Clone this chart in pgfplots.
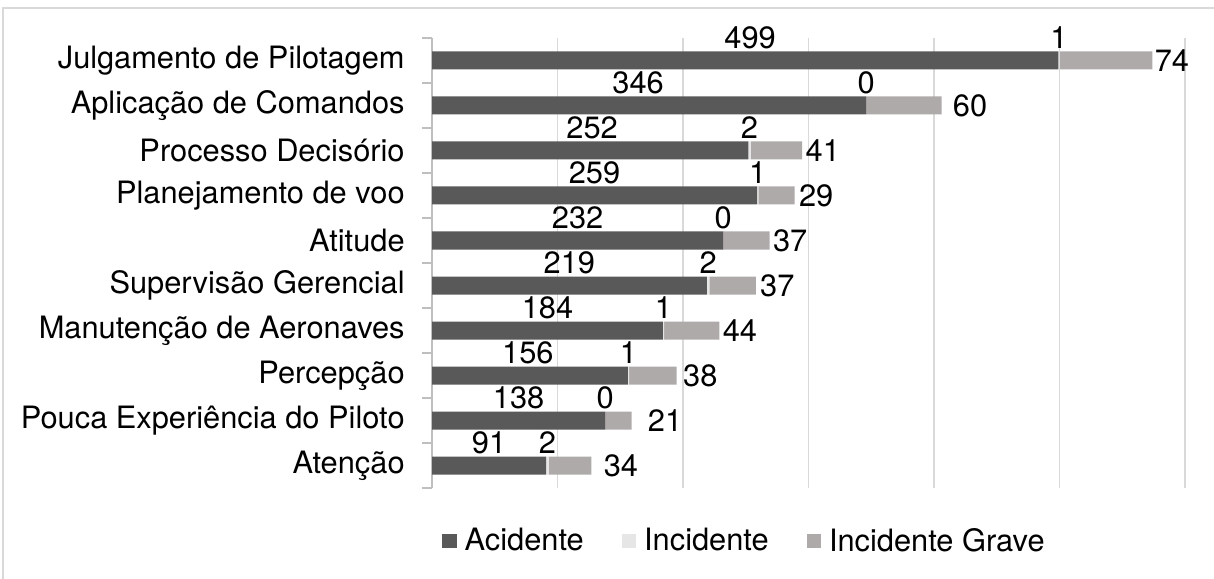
\documentclass[border=0pt]{standalone}
\usepackage{fontspec}
\setmainfont{TeX Gyre Heros}
\usepackage{pgfplots}
\pgfplotsset{compat=1.18}
\usepackage{pgfplotstable}
\definecolor{cAcc}{HTML}{595959}
\definecolor{cInc}{HTML}{E7E6E6}
\definecolor{cGrv}{HTML}{AEAAAA}
\definecolor{cGrid}{HTML}{D9D9D9}
\definecolor{cAxis}{HTML}{BFBFBF}
\newcommand\lblfont{\fontsize{15.4bp}{18bp}\selectfont}

% idx acc inc grv ; aoff/goff = label offsets in px (1 unit = 1.2555 px)
\pgfplotstableread{
idx acc inc grv aoff goff
0 499 1 74 5 2
1 346 0 60 -11 11
2 252 2 41 2 3
3 259 1 29 0 4
4 232 0 37 0 3
5 219 2 37 0 4
6 184 1 44 0 3
7 156 1 38 -2 6
8 138 0 21 0 16
9 91 2 34 0 12
}\data

\pgfplotsset{
  common/.style={
    at={(216bp,45.5bp)}, anchor=south west,
    scale only axis, width=376.5bp, height=225bp,
    clip=false,
    xmin=0, xmax=600, ymin=-0.5, ymax=9.5, y dir=reverse,
  }
}

\begin{document}
\begin{tikzpicture}
\useasboundingbox (0,0) rectangle (607bp,289.5bp);
\draw[cGrid, line width=0.9bp] (1.5bp,0) -- (1.5bp,285.5bp) -- (607bp,285.5bp);
\begin{axis}[
  common,
  xbar stacked, bar width=9bp,
  xtick={0,100,...,600}, xticklabels={}, xmajorgrids,
  major x grid style={cGrid, line width=0.75bp},
  xtick style={draw=none},
  major tick length=0bp,
  ytick={0,...,9},
  yticklabels={Julgamento de Pilotagem, Aplicação de Comandos, Processo Decisório, Planejamento de voo, Atitude, Supervisão Gerencial, Manutenção de Aeronaves, Percepção, Pouca Experiência do Piloto, Atenção},
  minor ytick={-0.5,0.5,...,9.5},
  minor tick length=5bp,
  minor y tick style={cAxis, line width=0.75bp},
  major y tick style={draw=none},
  tick align=outside, ytick pos=left,
  axis line style={draw=none},
  yticklabel style={font=\lblfont, inner sep=0pt, xshift=-13.5bp},
  legend columns=3,
  legend style={at={(0.4163,-0.1178)}, anchor=center, draw=none, fill=none,
    font=\lblfont, inner sep=0pt,
    /tikz/every odd column/.append style={column sep=2bp},
    /tikz/every even column/.append style={column sep=17bp}},
  legend image code/.code={\fill[#1] (0bp,-3.6bp) rectangle (7.2bp,3.6bp);},
]
\addplot[fill=cAcc, draw=none] table[x=acc, y=idx] {\data};
\addlegendentry{Acidente}
\addplot[fill=cInc, draw=none] table[x=inc, y=idx] {\data};
\addlegendentry{Incidente}
\addplot[fill=cGrv, draw=none] table[x=grv, y=idx] {\data};
\addlegendentry{Incidente Grave}
\draw[cAxis, line width=0.75bp] (rel axis cs:0,0) -- (rel axis cs:0,1);
\end{axis}
% data labels, same geometry
\begin{axis}[common, hide axis,
  nodes near coords={\pgfplotspointmeta}, point meta=explicit symbolic,
  every node near coord/.append style={font=\lblfont, inner sep=0pt, text=black},
]
\addplot[draw=none, nodes near coords style={anchor=base, yshift=6bp}]
  table[x expr={\thisrow{acc}/2+\thisrow{aoff}/1.2555}, y=idx, meta=acc] {\data};
\addplot[draw=none, nodes near coords style={anchor=base, yshift=6bp}]
  table[x expr={\thisrow{acc}+\thisrow{inc}/2}, y=idx, meta=inc] {\data};
\addplot[draw=none, nodes near coords style={anchor=west, yshift=0bp}]
  table[x expr={\thisrow{acc}+\thisrow{inc}+\thisrow{grv}+\thisrow{goff}/1.2555}, y=idx, meta=grv] {\data};
\end{axis}
\end{tikzpicture}
\end{document}
